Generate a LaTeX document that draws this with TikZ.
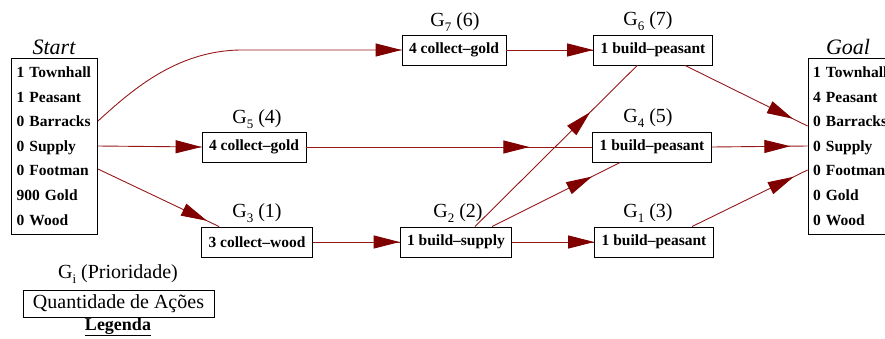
\documentclass[tikz,border=0pt]{standalone}
\usepackage{fontspec}
\setmainfont{Liberation Serif}
\usetikzlibrary{arrows.meta,decorations.markings,calc}
\definecolor{edgered}{RGB}{150,25,25}
\definecolor{headred}{RGB}{128,0,0}
\newcommand{\Gsub}[1]{G\raisebox{-4.5pt}{\fontsize{13}{13}\selectfont #1}}
\tikzset{
  gbox/.style={draw=black, line width=0.9pt, fill=white, minimum height=30pt,
    inner xsep=7pt, inner ysep=0pt, font=\bfseries\fontsize{15.5}{18}\selectfont},
  sbox/.style={draw=black, line width=0.9pt, fill=white, minimum height=176pt,
    text width=76pt, inner xsep=5pt, align=left,
    font=\bfseries\fontsize{15.5}{24.6}\selectfont},
  glabel/.style={font=\fontsize{20}{20}\selectfont, inner sep=0pt},
  ttl/.style={font=\itshape\fontsize{22}{22}\selectfont, inner sep=0pt},
  edge/.style={draw=edgered, line width=0.9pt},
  tipat/.style={postaction={decorate}, decoration={markings,
    mark=at position #1 with {\arrow{Triangle[length=26pt,width=13pt,color=headred]}}}},
}
\begin{document}
\begin{tikzpicture}[x=1pt,y=-1pt]
\useasboundingbox (0,0) rectangle (885,338);
% start / goal
\node[sbox] (start) at (54.5,146) {1 Townhall\\1 Peasant\\0 Barracks\\0 Supply\\0 Footman\\900 Gold\\0 Wood};
\node[ttl] (starttitle) at (54,47) {Start};
\node[sbox] (goal) at (851,146) {1 Townhall\\4 Peasant\\0 Barracks\\0 Supply\\0 Footman\\0 Gold\\0 Wood};
\node[ttl] (goaltitle) at (848,47) {Goal};
% goal nodes
\node[gbox] (g7) at (454,50) {4 collect–gold};
\node[gbox] (g6) at (653,50) {1 build–peasant};
\node[gbox] (g5) at (254,147) {4 collect–gold};
\node[gbox] (g4) at (652,147) {1 build–peasant};
\node[gbox] (g3) at (257,242) {3 collect–wood};
\node[gbox] (g2) at (456,242) {1 build–supply};
\node[gbox] (g1) at (654,242) {1 build–peasant};
% labels
\node[glabel] (l7) at (455,22) {\Gsub{7} (6)};
\node[glabel] (l6) at (648,21) {\Gsub{6} (7)};
\node[glabel] (l5) at (257,119) {\Gsub{5} (4)};
\node[glabel] (l4) at (648,118) {\Gsub{4} (5)};
\node[glabel] (l3) at (257,213) {\Gsub{3} (1)};
\node[glabel] (l2) at (458,213) {\Gsub{2} (2)};
\node[glabel] (l1) at (648,213) {\Gsub{1} (3)};
% legend
\node[glabel] (legl) at (118,274) {\Gsub{i} (Prioridade)};
\node[draw=black, line width=0.9pt, minimum width=191pt, minimum height=27pt, inner sep=0pt,
  font=\fontsize{20}{20}\selectfont] (leg) at (118.5,304) {Quantidade de Ações};
\node[font=\bfseries\fontsize{18}{18}\selectfont, inner sep=0pt] (legt) at (118,327) {\underline{Legenda}};
% ports
\coordinate (sB) at ($(start.east)+(0,-25)$);
\coordinate (sF) at ($(start.east)+(0,23)$);
\coordinate (gB) at ($(goal.west)+(0,-20)$);
\coordinate (gF) at ($(goal.west)+(0,24)$);
% edges
\draw[edge, tipat=1] (sB) .. controls (130,92) and (175,51) .. (240,50) -- (g7.west);
\draw[edge, tipat=1] (start.east) -- (g5.west);
\draw[edge, tipat=0.9] (sF) -- ($(g3.north west)+(18,0)$);
\draw[edge, tipat=0.78] (g5.east) -- (g4.west);
\draw[edge, tipat=1] (g3.east) -- (g2.west);
\draw[edge, tipat=0.71] ($(g2.north)+(19,0)$) -- ($(g6.south west)+(44,0)$);
\draw[edge, tipat=0.78] ($(g2.north)+(36,0)$) -- ($(g4.south west)+(28,0)$);
\draw[edge, tipat=1] (g2.east) -- (g1.west);
\draw[edge, tipat=1] (g7.east) -- (g6.west);
\draw[edge, tipat=0.88] ($(g6.south)+(32,0)$) -- (gB);
\draw[edge, tipat=0.82] (g4.east) -- (goal.west);
\draw[edge, tipat=0.88] ($(g1.north)+(38,0)$) -- (gF);
\end{tikzpicture}
\end{document}
